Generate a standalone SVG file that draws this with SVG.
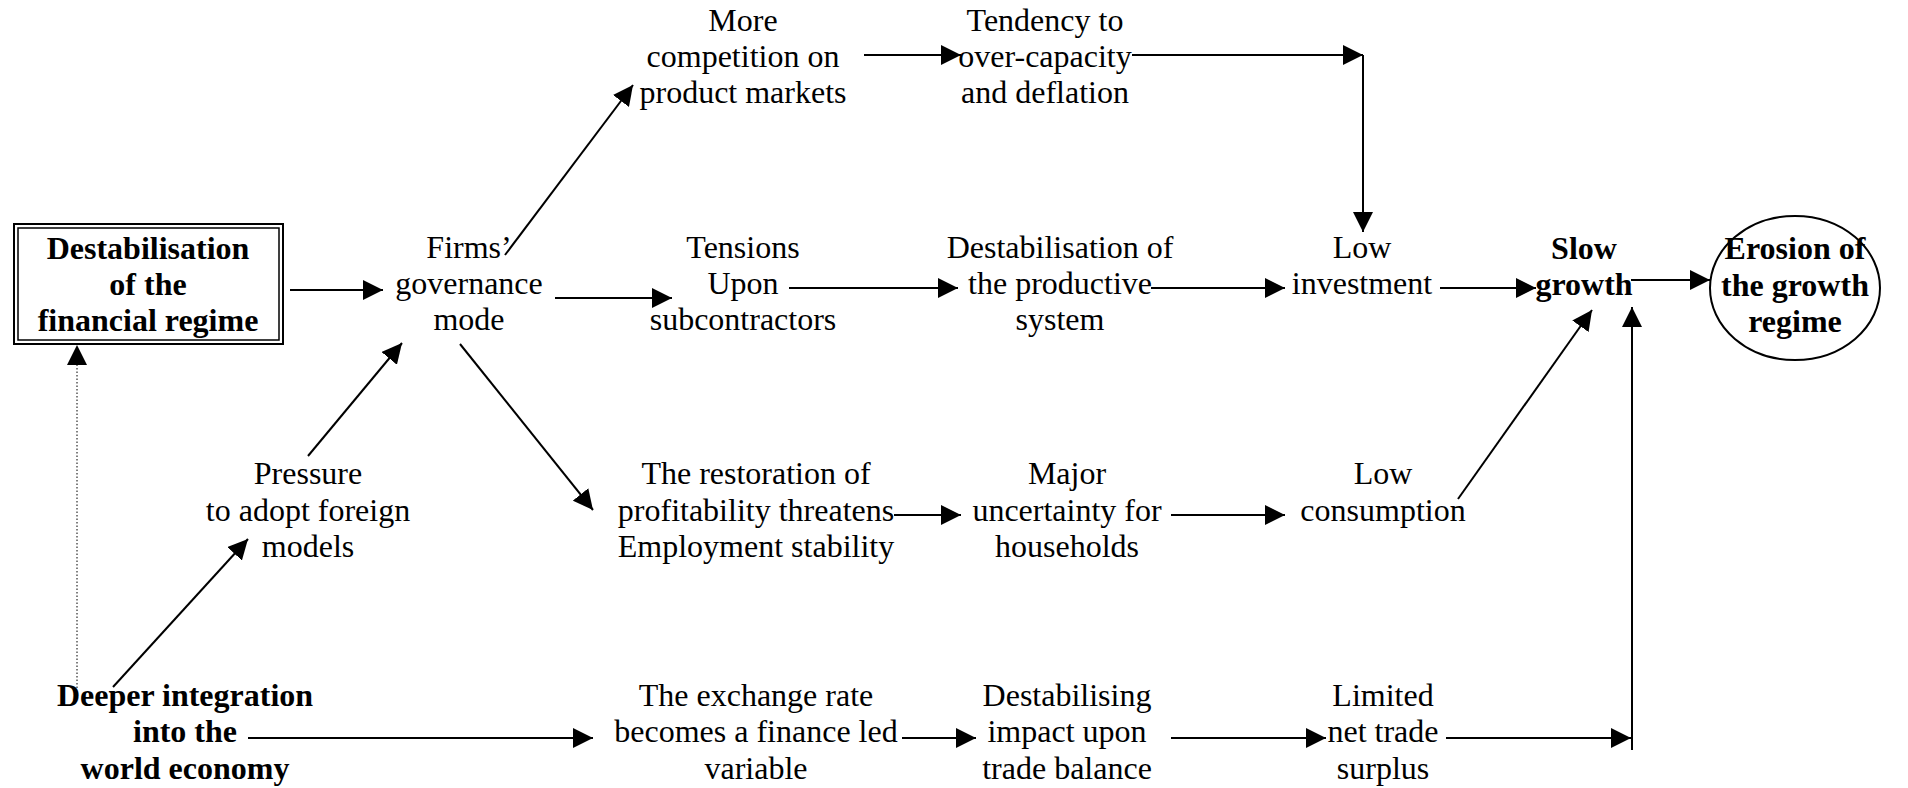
<svg xmlns="http://www.w3.org/2000/svg" width="1908" height="788" viewBox="0 0 1908 788" font-family="Liberation Serif, DejaVu Serif, serif">
<style>
text{font-family:'Liberation Serif','DejaVu Serif',serif;font-size:32px;fill:#000;text-anchor:middle}
.b{font-weight:bold}
.c line{stroke:#000;stroke-width:2;fill:none}
.c .a{marker-end:url(#ah)}
.c .d{stroke-width:1;stroke-dasharray:1.5,2}
</style>
<defs>
<marker id="ah" markerUnits="userSpaceOnUse" markerWidth="20" markerHeight="20" refX="20" refY="10" orient="auto" viewBox="0 0 20 20">
<path d="M0,0 L20,10 L0,20 z" fill="#000"/>
</marker>
</defs>
<rect width="1908" height="788" fill="#fff"/>

<g class="c" id="connectors">
<line class="a" x1="290" y1="290" x2="383" y2="290"/>
<line class="a" x1="505" y1="255" x2="633" y2="85"/>
<line class="a" x1="555" y1="298" x2="672" y2="298"/>
<line class="a" x1="460" y1="344" x2="593" y2="510"/>
<line class="a" x1="308" y1="456" x2="402" y2="343"/>
<line class="a" x1="113" y1="687" x2="248" y2="539"/>
<line class="a d" x1="77" y1="688" x2="77" y2="345"/>
<line class="a" x1="248" y1="738" x2="593" y2="738"/>
<line class="a" x1="864" y1="55" x2="961" y2="55"/>
<line class="a" x1="1132" y1="55" x2="1363" y2="55"/>
<line class="a" x1="1363" y1="55" x2="1363" y2="232"/>
<line class="a" x1="789" y1="288" x2="958" y2="288"/>
<line class="a" x1="1151" y1="288" x2="1285" y2="288"/>
<line class="a" x1="1440" y1="288" x2="1536" y2="288"/>
<line class="a" x1="1631" y1="280" x2="1710" y2="280"/>
<line class="a" x1="1458" y1="499" x2="1592" y2="310"/>
<line class="a" x1="1446" y1="738" x2="1631" y2="738"/>
<line class="a" x1="1632" y1="750" x2="1632" y2="307"/>
<line class="a" x1="894" y1="515" x2="961" y2="515"/>
<line class="a" x1="1171" y1="515" x2="1285" y2="515"/>
<line class="a" x1="902" y1="738" x2="976" y2="738"/>
<line class="a" x1="1171" y1="738" x2="1326" y2="738"/>
</g>

<g id="n-financial">
<rect x="14" y="224" width="269" height="120" fill="none" stroke="#000" stroke-width="2"/>
<rect x="18" y="228" width="261" height="112" fill="none" stroke="#000" stroke-width="1.5"/>
<text class="b" x="148" y="259">Destabilisation</text>
<text class="b" x="148" y="295">of the</text>
<text class="b" x="148" y="331">financial regime</text>
</g>

<g id="n-firms">
<text x="469" y="258">Firms’</text>
<text x="469" y="294">governance</text>
<text x="469" y="330">mode</text>
</g>

<g id="n-competition">
<text x="743" y="31">More</text>
<text x="743" y="67">competition on</text>
<text x="743" y="103">product markets</text>
</g>

<g id="n-tendency">
<text x="1045" y="31">Tendency to</text>
<text x="1045" y="67">over-capacity</text>
<text x="1045" y="103">and deflation</text>
</g>

<g id="n-tensions">
<text x="743" y="258">Tensions</text>
<text x="743" y="294">Upon</text>
<text x="743" y="330">subcontractors</text>
</g>

<g id="n-productive">
<text x="1060" y="258">Destabilisation of</text>
<text x="1060" y="294">the productive</text>
<text x="1060" y="330">system</text>
</g>

<g id="n-investment">
<text x="1362" y="258">Low</text>
<text x="1362" y="294">investment</text>
</g>

<g id="n-slow">
<text class="b" x="1584" y="259">Slow</text>
<text class="b" x="1584" y="295">growth</text>
</g>

<g id="n-erosion">
<ellipse cx="1795" cy="288" rx="85" ry="72" fill="none" stroke="#000" stroke-width="2"/>
<text class="b" x="1795" y="259">Erosion of</text>
<text class="b" x="1795" y="296">the growth</text>
<text class="b" x="1795" y="332">regime</text>
</g>

<g id="n-pressure">
<text x="308" y="484">Pressure</text>
<text x="308" y="521">to adopt foreign</text>
<text x="308" y="557">models</text>
</g>

<g id="n-restoration">
<text x="756" y="484">The restoration of</text>
<text x="756" y="521">profitability threatens</text>
<text x="756" y="557">Employment stability</text>
</g>

<g id="n-uncertainty">
<text x="1067" y="484">Major</text>
<text x="1067" y="521">uncertainty for</text>
<text x="1067" y="557">households</text>
</g>

<g id="n-consumption">
<text x="1383" y="484">Low</text>
<text x="1383" y="521">consumption</text>
</g>

<g id="n-integration">
<text class="b" x="185" y="706">Deeper integration</text>
<text class="b" x="185" y="742">into the</text>
<text class="b" x="185" y="779">world economy</text>
</g>

<g id="n-exchange">
<text x="756" y="706">The exchange rate</text>
<text x="756" y="742">becomes a finance led</text>
<text x="756" y="779">variable</text>
</g>

<g id="n-trade-impact">
<text x="1067" y="706">Destabilising</text>
<text x="1067" y="742">impact upon</text>
<text x="1067" y="779">trade balance</text>
</g>

<g id="n-surplus">
<text x="1383" y="706">Limited</text>
<text x="1383" y="742">net trade</text>
<text x="1383" y="779">surplus</text>
</g>
</svg>
